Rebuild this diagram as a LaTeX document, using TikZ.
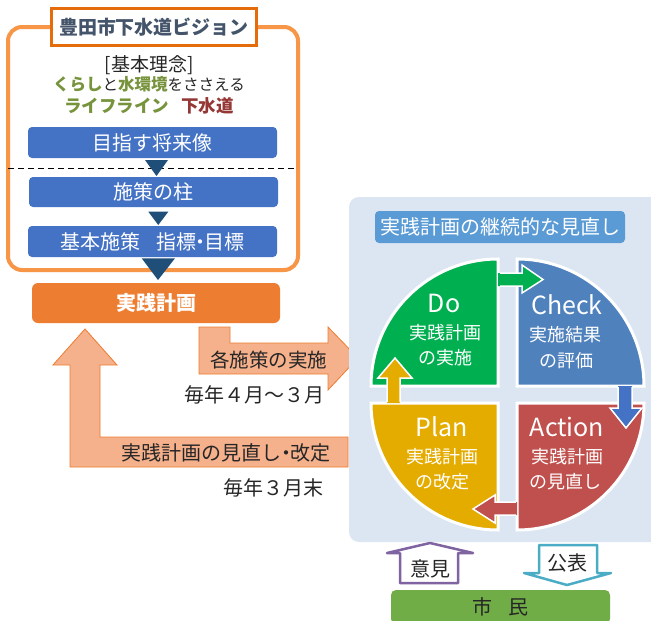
\documentclass[tikz,border=0pt]{standalone}
\usepackage{fontspec}
\setmainfont{Noto Sans CJK JP}
\usetikzlibrary{calc}
\definecolor{frameor}{HTML}{F79646}
\definecolor{titleor}{HTML}{E46C0A}
\definecolor{titletxt}{HTML}{44546A}
\definecolor{txtdark}{HTML}{262626}
\definecolor{olivegrn}{HTML}{77933C}
\definecolor{darkred}{HTML}{953735}
\definecolor{boxblue}{HTML}{4472C4}
\definecolor{tridark}{HTML}{1F4E79}
\definecolor{jorange}{HTML}{ED7D31}
\definecolor{salmon}{HTML}{F5B08C}
\definecolor{panelbg}{HTML}{DCE6F2}
\definecolor{ptitlebg}{HTML}{5B9BD5}
\definecolor{qgreen}{HTML}{00B050}
\definecolor{qblue}{HTML}{4F81BD}
\definecolor{qred}{HTML}{C0504D}
\definecolor{qgold}{HTML}{E5AC00}
\definecolor{arrblue}{HTML}{4472C4}
\definecolor{ikenpurple}{HTML}{8064A2}
\definecolor{kohyocyan}{HTML}{4BACC6}
\definecolor{citizengreen}{HTML}{70AD47}
\newcommand{\nakaguro}{\hspace{-0.28em}・\hspace{-0.28em}}
\begin{document}
\begin{tikzpicture}[x=1pt,y=-1pt,
  every node/.style={inner sep=0pt,outer sep=0pt,text=txtdark},
  fs/.style={font=\fontsize{#1}{#1}\selectfont},
  fsb/.style={font=\fontsize{#1}{#1}\selectfont\bfseries},
  bluebox/.style={fill=boxblue,rounded corners=4pt,minimum width=249pt,text=white,fs=20},
  tri/.style={fill=tridark},
  quad/.style={draw=white,line width=3pt},
  qlatin/.style={text=white,fs=25},
  qjp/.style={text=white,fs=18},
  salmonshape/.style={fill=salmon,draw=jorange,line width=0.8pt},
  blockarrow/.style={draw=white,line width=1.5pt},
]
\useasboundingbox (0,0) rectangle (651,621);
\fill[white] (0,0) rectangle (651,621);

% ---- left frame (vision)
\draw[draw=frameor,fill=white,line width=4pt,rounded corners=14pt] (8,27) rectangle (298,270);
\node[draw=titleor,fill=white,line width=3.5pt,minimum width=205pt,minimum height=37pt,text=titletxt,fsb=19] (title) at (154,27) {豊田市下水道ビジョン};

\node[fs=19] (rinen) at (149,65) {[基本理念]};
\node (kurashi) at (149,84) {\fontsize{16.5}{17}\selectfont\bfseries\textcolor{olivegrn}{くらし}{\mdseries\fontsize{15.5}{16}\selectfont と}\textcolor{olivegrn}{水環境}{\mdseries\fontsize{15.5}{16}\selectfont をささえる}};
\node (lifeline) at (149,106) {\fontsize{17.5}{18}\selectfont\bfseries\textcolor{olivegrn}{ライフライン}\hspace{0.7em}\textcolor{darkred}{下水道}};

\node[bluebox,minimum height=31pt] (goal) at (152.5,142.5) {目指す将来像};
\draw[black,dash pattern=on 6pt off 4pt,line width=1pt] (8,168) -- (297,168);
\node[bluebox,minimum height=30pt] (pillar) at (153.5,192) {施策の柱};
\node[bluebox,minimum height=31pt] (basic) at (152.5,241.5) {基本施策\hspace{0.8em}指標\nakaguro 目標};

\node[fill=jorange,rounded corners=6pt,minimum width=248pt,minimum height=40pt,text=white,fsb=20] (jissen) at (156,303) {実践計画};

\fill[tri] ($(goal.south)+(-7.5,2)$) -- ($(goal.south)+(15.5,2)$) -- ($(pillar.north)+(3,-1)$) -- cycle;
\fill[tri] ($(pillar.south)+(-5.2,4.7)$) -- ($(pillar.south)+(14.8,4.7)$) -- ($(basic.north)+(5.8,-1)$) -- cycle;
\fill[tri] ($(basic.south)+(-10.8,1.3)$) -- ($(basic.south)+(22.5,1.3)$) -- ($(jissen.north)+(2,-3)$) -- cycle;

% ---- salmon arrows
\draw[salmonshape] (199,327) -- (230,327) -- (230,343) -- (328,343) -- (328,327) -- (358,358) -- (328,390) -- (328,374) -- (199,374) -- cycle;
\node[fs=19.5,anchor=east] (impl) at (327,360) {各施策の実施};
\node[fs=20] (period1) at (254,395) {毎年４月～３月};

\draw[salmonshape] (85,329) -- (117,365) -- (100,365) -- (100,437) -- (348,437) -- (348,467) -- (70,467) -- (70,365) -- (53,365) -- cycle;
\node[fs=20] (review) at (226,453) {実践計画の見直し\nakaguro 改定};
\node[fs=20] (period2) at (273,488) {毎年３月末};

% ---- PDCA panel
\fill[panelbg,rounded corners=10pt] (349,197) rectangle (670,542);
\node[fill=ptitlebg,rounded corners=4pt,minimum width=250pt,minimum height=32pt,text=white,fs=20] (ptitle) at (500,227) {実践計画の継続的な見直し};

\draw[quad,fill=qgreen] (498,386) -- (371,386) arc[start angle=180,end angle=90,radius=127pt] -- cycle;
\draw[quad,fill=qblue] (517,386) -- (517,259) arc[start angle=90,end angle=0,radius=127pt] -- cycle;
\draw[quad,fill=qred] (517,403) -- (644,403) arc[start angle=0,end angle=-90,radius=127pt] -- cycle;
\draw[quad,fill=qgold] (498,403) -- (498,530) arc[start angle=-90,end angle=-180,radius=127pt] -- cycle;

% small cycle arrows
\fill[qgreen] (498,273) -- (522,273) -- (522,265) -- (543,279.5) -- (522,293) -- (522,286) -- (498,286) -- cycle;
\draw[blockarrow] (500,273) -- (522,273) -- (522,265) -- (543,279.5) -- (522,293) -- (522,286) -- (500,286);
\fill[arrblue] (618,386) -- (618,408) -- (610,408) -- (626,428) -- (642,408) -- (632,408) -- (632,386) -- cycle;
\draw[blockarrow] (618,387) -- (618,408) -- (610,408) -- (626,428) -- (642,408) -- (632,408) -- (632,387);
\fill[qred] (517,502) -- (495,502) -- (495,495) -- (473,509) -- (495,523) -- (495,515) -- (517,515) -- cycle;
\draw[blockarrow] (516,502) -- (495,502) -- (495,495) -- (473,509) -- (495,523) -- (495,515) -- (516,515);
\fill[qgold] (387,403) -- (387,378) -- (378,378) -- (395,358) -- (412,378) -- (400,378) -- (400,403) -- cycle;
\draw[blockarrow] (387,402) -- (387,378) -- (378,378) -- (395,358) -- (412,378) -- (400,378) -- (400,402);

\node[qlatin] (do) at (444,303) {Do};
\node[qjp] (do1) at (445,333) {実践計画};
\node[qjp] (do2) at (445,358) {の実施};
\node[qlatin] (check) at (567,305) {Check};
\node[qjp] (check1) at (565,335) {実施結果};
\node[qjp] (check2) at (566,361) {の評価};
\node[qlatin] (plan) at (442,427) {Plan};
\node[qjp] (plan1) at (442,457) {実践計画};
\node[qjp] (plan2) at (442,482) {の改定};
\node[qlatin] (action) at (567,427) {Action};
\node[qjp] (action1) at (567,457) {実践計画};
\node[qjp] (action2) at (565,482) {の見直し};

% ---- citizens
\draw[ikenpurple,line width=2.5pt,fill=white,line join=round] (430,543) -- (473,553) -- (458,553) -- (458,583) -- (400,583) -- (400,553) -- (387,553) -- cycle;
\node[fs=20] (iken) at (430,569) {意見};
\draw[kohyocyan,line width=2.5pt,fill=white,line join=round] (539,545) -- (597,545) -- (597,573) -- (611,573) -- (567,585) -- (524,573) -- (539,573) -- cycle;
\node[fs=20] (kohyo) at (567,563) {公表};
\node[fill=citizengreen,rounded corners=5pt,minimum width=219pt,minimum height=34pt,fs=20] (shimin) at (500.5,607) {市\hspace{0.8em}民};
\end{tikzpicture}
\end{document}
